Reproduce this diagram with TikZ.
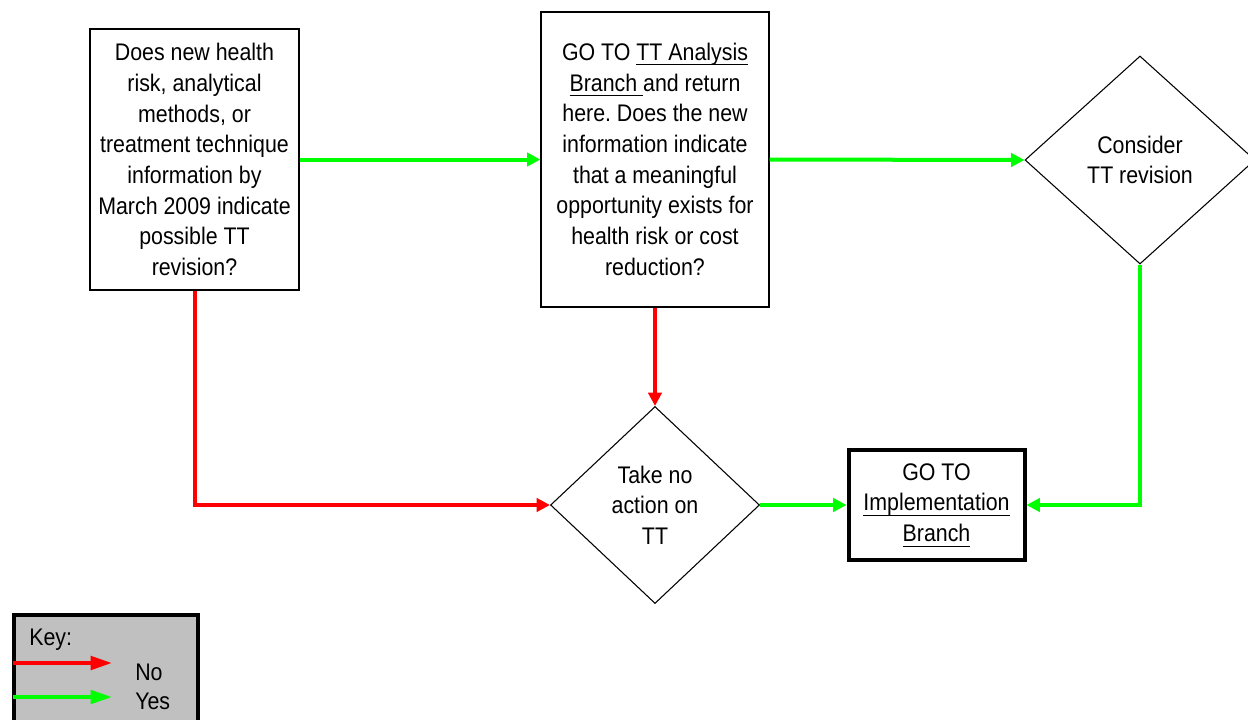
\documentclass[tikz,border=0pt]{standalone}
\usepackage{fontspec}
\setmainfont{Liberation Sans}[FakeStretch=0.89]
\usetikzlibrary{shapes.geometric,arrows.meta}

\definecolor{yesgreen}{RGB}{0,255,0}
\definecolor{nored}{RGB}{255,0,0}
\definecolor{keygray}{RGB}{192,192,192}

\newcommand{\linkul}[1]{\underline{\smash{#1}\rule[-1.8pt]{0pt}{0pt}}}

\tikzset{
  every node/.style={font=\fontsize{18}{23}\selectfont},
  qbox/.style={draw, line width=1pt, align=center, inner sep=2pt},
  decision/.style={draw, diamond, line width=0.8pt, align=center, inner sep=0pt},
  yes/.style={draw=yesgreen, line width=3pt, -{Triangle[length=10pt,width=10pt]}},
  no/.style={draw=nored, line width=3pt, -{Triangle[length=10pt,width=10pt]}},
  keytext/.style={anchor=west, inner sep=0pt}
}

\begin{document}
\frenchspacing
\begin{tikzpicture}[x=0.75pt,y=-0.75pt]
  \useasboundingbox (0,0) rectangle (1248,719);

  % Fragen und Entscheidungen
  \node[qbox, minimum width=156.75pt, minimum height=195.75pt] (q1) at (194.5,159.5)
    {Does new health\\risk, analytical\\methods, or\\treatment technique\\information by\\March 2009 indicate\\possible TT\\revision?};
  \node[qbox, minimum width=171pt, minimum height=221.25pt] (q2) at (655,159.5)
    {GO TO \linkul{TT Analysis}\\\linkul{Branch\ }and return\\here. Does the new\\information indicate\\that a meaningful\\opportunity exists for\\health risk or cost\\reduction?};
  \node[decision, minimum width=172.5pt, minimum height=156pt] (rev) at (1140,160)
    {Consider\\TT revision};
  \node[decision, minimum width=156.75pt, minimum height=147.75pt] (noact) at (655,505)
    {Take no\\action on\\TT};
  \node[qbox, line width=3pt, minimum width=132pt, minimum height=82.5pt] (impl) at (936.5,505)
    {GO TO\\\linkul{Implementation}\\\linkul{Branch}};

  % Verbindungen
  \draw[yes] (q1.east) -- (q2.west);
  \draw[yes] (q2.east) -- (rev.west);
  \draw[no] (q1.south) |- (noact.west);
  \draw[no] (q2.south) -- (noact.north);
  \draw[yes] (noact.east) -- (impl.west);
  \draw[yes] (rev.south) |- (impl.east);

  % Legende
  \draw[line width=3pt, fill=keygray] (13.7,615) rectangle (198,740);
  \node[keytext] (keylbl) at (29,640) {Key:};
  \coordinate (nostart) at (13,663);
  \coordinate (noend) at (112,663);
  \coordinate (yesstart) at (13,697);
  \coordinate (yesend) at (112,697);
  \draw[no, -{Triangle[length=16pt,width=10pt]}] (nostart) -- (noend);
  \draw[yes, -{Triangle[length=16pt,width=10pt]}] (yesstart) -- (yesend);
  \node[keytext] (nolbl) at (135,672) {No};
  \node[keytext] (yeslbl) at (135,701) {Yes};
\end{tikzpicture}
\end{document}
